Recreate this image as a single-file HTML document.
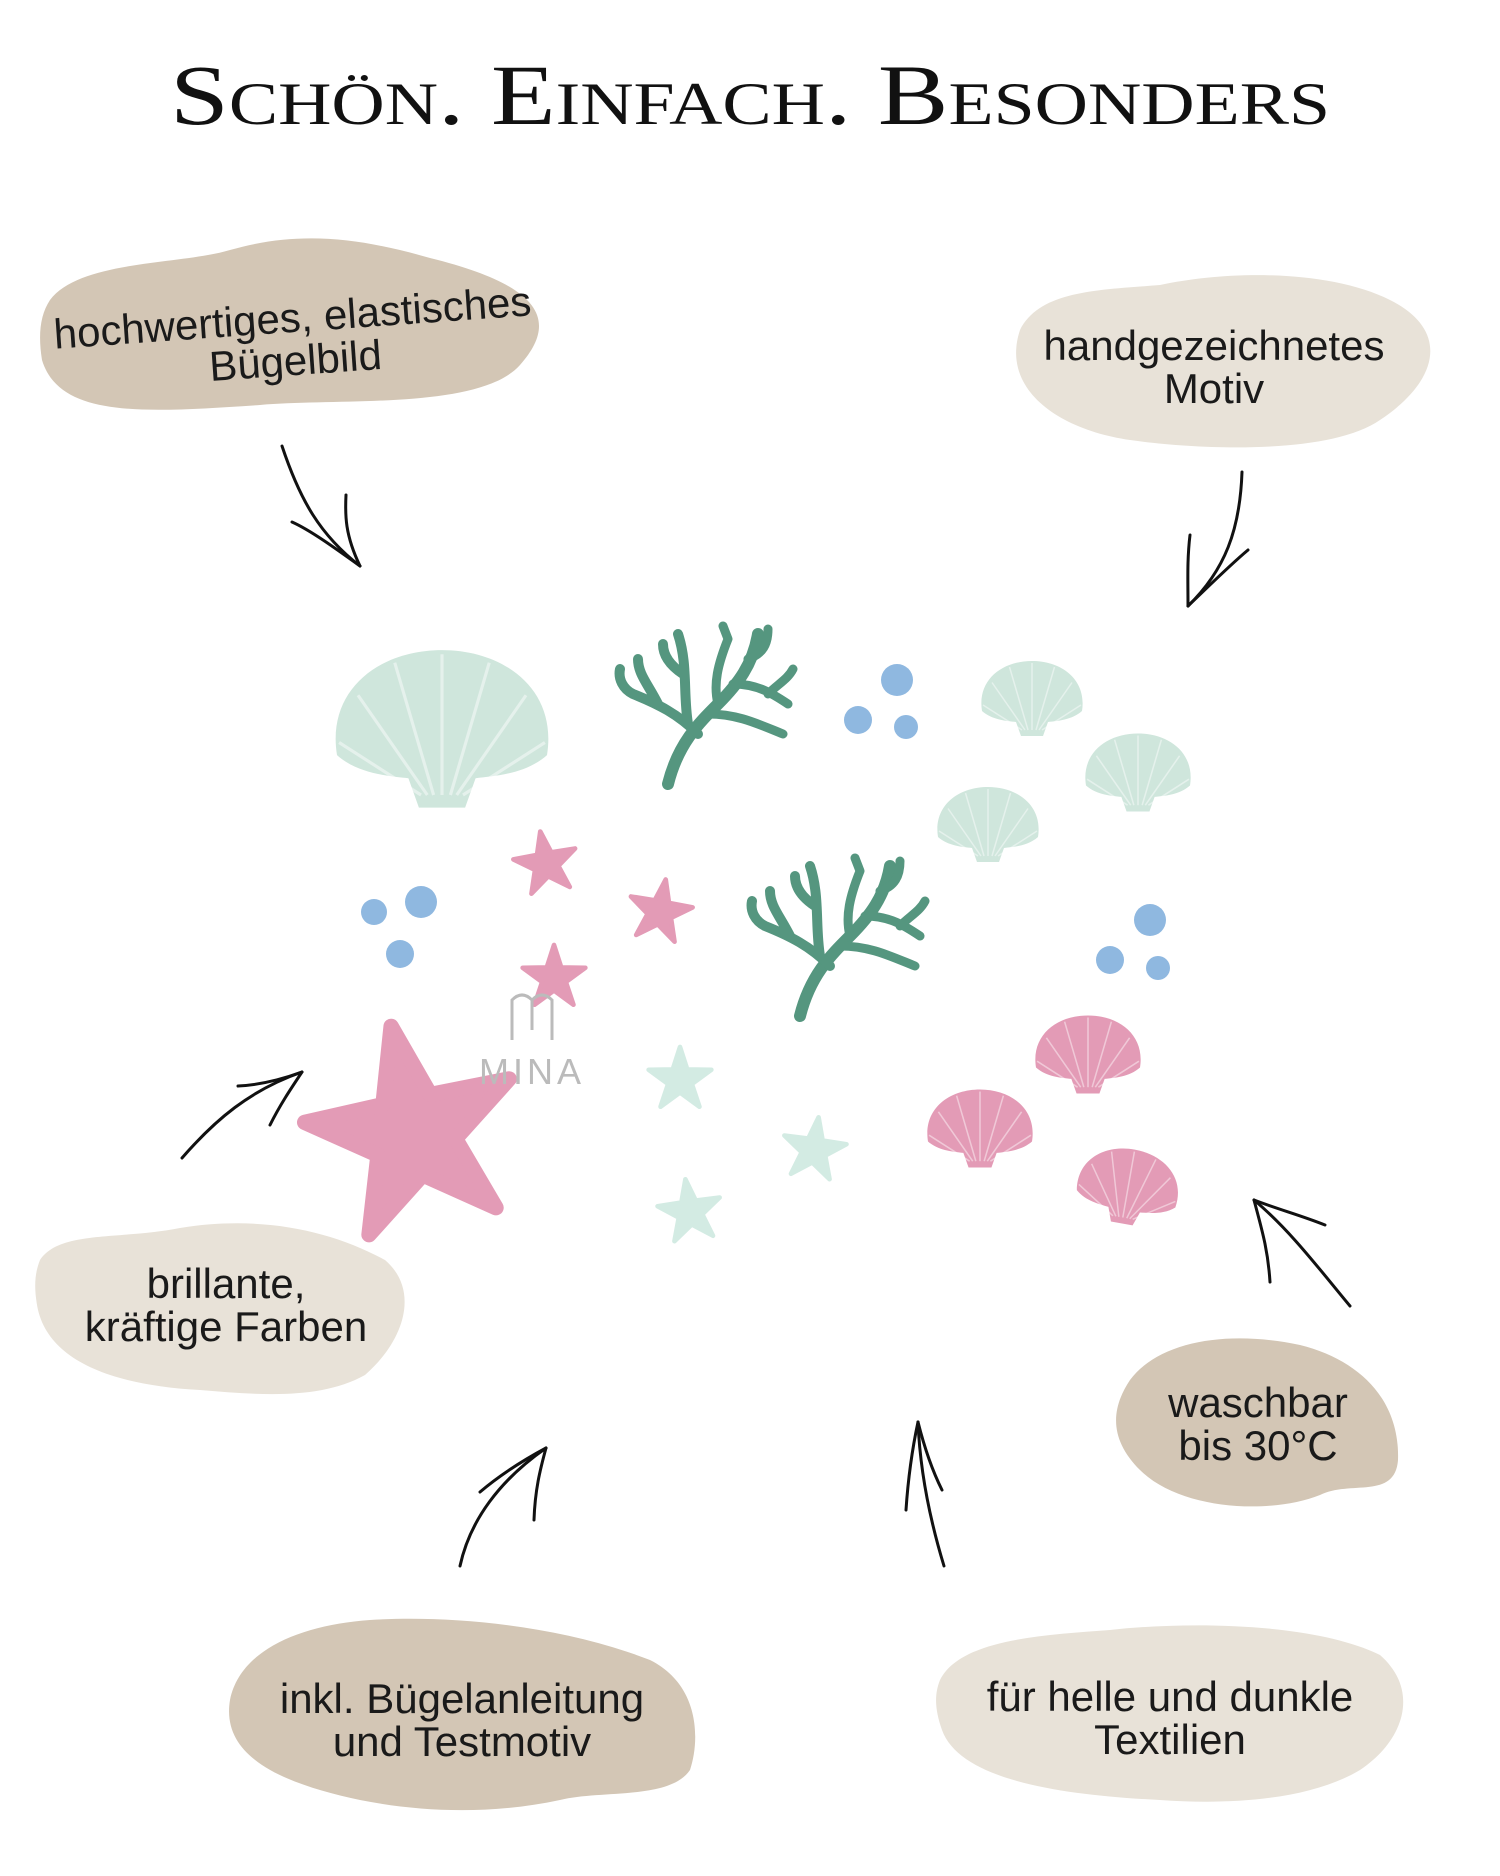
<!DOCTYPE html>
<html><head><meta charset="utf-8"><style>
html,body{margin:0;padding:0;background:#fff}
svg{display:block}
.t{font-family:"Liberation Sans",sans-serif;font-size:42px;fill:#1a1a1a;text-anchor:middle}
</style></head><body>
<svg width="1500" height="1876" viewBox="0 0 1500 1876" xmlns="http://www.w3.org/2000/svg">
<defs>
<g id="shell">
<path d="M-100 22 C-110 -40 -60 -78 0 -78 C60 -78 110 -40 100 22 C80 40 50 42 32 44 L22 72 L-22 72 L-32 44 C-50 42 -80 40 -100 22 Z"/>
<g fill="none" stroke="#fff" stroke-opacity="0.45" stroke-width="3">
<path d="M0 60 L0 -74"/><path d="M-8 60 L-45 -66"/><path d="M8 60 L45 -66"/><path d="M-14 60 L-80 -35"/><path d="M14 60 L80 -35"/><path d="M-20 60 L-98 10"/><path d="M20 60 L98 10"/>
</g>
</g>
<g id="star">
<polygon points="0,-100 22,-32 95,-31 36,12 59,81 0,38 -59,81 -36,12 -95,-31 -22,-32" stroke-linejoin="round" stroke-width="14"/>
</g>
<g id="coral" fill="none" stroke-linecap="round" stroke-linejoin="round">
<path d="M-40 70 C-30 30 -10 10 10 -10 C30 -30 45 -50 50 -80" stroke-width="12"/>
<path d="M-10 20 C-30 0 -50 -10 -75 -20 M-50 -10 C-60 -30 -70 -40 -70 -55 M-75 -20 C-85 -25 -90 -35 -88 -45" stroke-width="10"/>
<path d="M-20 10 C-25 -20 -20 -50 -30 -80 M-25 -40 C-40 -50 -45 -60 -45 -70" stroke-width="10"/>
<path d="M10 -10 C5 -30 10 -50 20 -75 M20 -75 L15 -88" stroke-width="9"/>
<path d="M25 -30 C50 -30 65 -20 80 -10 M60 -20 C70 -30 80 -35 85 -45 M40 -55 C55 -60 60 -70 60 -85" stroke-width="9"/>
<path d="M0 0 C30 0 50 10 75 20" stroke-width="9"/>
</g>
</defs>

<text x="750" y="124" textLength="1160" lengthAdjust="spacingAndGlyphs" style="font-family:'Liberation Serif',serif;font-size:86px;font-variant:small-caps;fill:#111;text-anchor:middle">Schön. Einfach. Besonders</text>

<path d="M50 300 C80 260 180 265 230 250 C300 230 360 238 430 258 C540 285 560 320 520 365 C480 410 340 398 260 405 C150 412 60 420 42 360 C38 335 40 315 50 300 Z" fill="#d3c6b5"/>
<path d="M1020 330 C1040 290 1100 290 1160 285 C1230 270 1330 270 1390 300 C1450 330 1440 380 1380 420 C1330 455 1200 450 1130 440 C1060 430 1000 390 1020 330 Z" fill="#e8e2d8"/>
<path d="M40 1260 C60 1230 120 1240 180 1228 C260 1215 330 1230 385 1260 C420 1290 405 1340 365 1375 C320 1400 260 1395 200 1390 C110 1385 50 1360 38 1310 C34 1290 34 1275 40 1260 Z" fill="#e8e2d8"/>
<path d="M1130 1380 C1160 1340 1230 1330 1300 1345 C1360 1360 1400 1400 1398 1460 C1395 1500 1350 1480 1320 1495 C1270 1515 1180 1510 1140 1470 C1110 1440 1110 1410 1130 1380 Z" fill="#d3c6b5"/>
<path d="M230 1700 C240 1650 300 1625 370 1620 C450 1615 560 1625 650 1660 C700 1685 700 1740 690 1770 C670 1800 600 1790 560 1800 C490 1815 420 1812 360 1800 C290 1785 220 1760 230 1700 Z" fill="#d3c6b5"/>
<path d="M940 1680 C960 1640 1040 1635 1110 1630 C1200 1620 1320 1625 1380 1655 C1420 1690 1405 1740 1360 1770 C1310 1800 1230 1805 1160 1800 C1060 1795 960 1780 942 1730 C935 1710 934 1695 940 1680 Z" fill="#e8e2d8"/>

<g transform="rotate(-4 294 340)">
<text class="t" x="294" y="332">hochwertiges, elastisches</text>
<text class="t" x="294" y="375">Bügelbild</text>
</g>
<text class="t" x="1214" y="360">handgezeichnetes</text>
<text class="t" x="1214" y="403">Motiv</text>
<text class="t" x="226" y="1298">brillante,</text>
<text class="t" x="226" y="1341">kräftige Farben</text>
<text class="t" x="1258" y="1417">waschbar</text>
<text class="t" x="1258" y="1460">bis 30°C</text>
<text class="t" x="462" y="1713">inkl. Bügelanleitung</text>
<text class="t" x="462" y="1756">und Testmotiv</text>
<text class="t" x="1170" y="1711">für helle und dunkle</text>
<text class="t" x="1170" y="1754">Textilien</text>

<g fill="none" stroke="#111" stroke-width="3" stroke-linecap="round">
<path d="M282 446 C300 500 320 535 360 566"/><path d="M360 566 C345 535 345 515 346 495"/><path d="M360 566 C335 548 310 530 292 522"/>
<path d="M1242 472 C1240 530 1225 570 1188 606"/><path d="M1188 606 C1188 580 1187 560 1190 535"/><path d="M1188 606 C1210 585 1230 565 1248 550"/>
<path d="M182 1158 C215 1120 250 1090 302 1072"/><path d="M302 1072 C280 1080 260 1085 238 1086"/><path d="M302 1072 C290 1090 280 1105 270 1125"/>
<path d="M1350 1306 C1320 1270 1290 1230 1254 1200"/><path d="M1254 1200 C1262 1230 1268 1250 1270 1282"/><path d="M1254 1200 C1280 1210 1300 1215 1325 1225"/>
<path d="M460 1566 C470 1520 500 1480 546 1448"/><path d="M546 1448 C540 1470 535 1490 534 1520"/><path d="M546 1448 C520 1462 500 1475 480 1492"/>
<path d="M944 1566 C930 1520 920 1470 918 1422"/><path d="M918 1422 C912 1450 908 1480 906 1510"/><path d="M918 1422 C925 1450 932 1470 942 1490"/>
</g>

<g fill="#cfe6dc">
<use href="#shell" transform="translate(442 732) scale(1.05)"/>
<use href="#shell" transform="translate(1032 700) scale(0.5)"/>
<use href="#shell" transform="translate(1138 774) scale(0.52)"/>
<use href="#shell" transform="translate(988 826) scale(0.5)"/>
</g>
<g fill="#e39bb6">
<use href="#shell" transform="translate(1088 1056) scale(0.52)"/>
<use href="#shell" transform="translate(980 1130) scale(0.52)"/>
<use href="#shell" transform="translate(1128 1188) scale(0.5) rotate(10)"/>
</g>
<g stroke="#55967f"><use href="#coral" transform="translate(708 714) scale(1.0)"/></g>
<g stroke="#55967f"><use href="#coral" transform="translate(840 946) scale(1.0)"/></g>
<g fill="#8fb8e0">
<circle cx="897" cy="680" r="16"/><circle cx="858" cy="720" r="14"/><circle cx="906" cy="727" r="12"/>
<circle cx="374" cy="912" r="13"/><circle cx="421" cy="902" r="16"/><circle cx="400" cy="954" r="14"/>
<circle cx="1150" cy="920" r="16"/><circle cx="1110" cy="960" r="14"/><circle cx="1158" cy="968" r="12"/>
</g>
<g fill="#e39bb6" stroke="#e39bb6">
<use href="#star" transform="translate(546 864) scale(0.33) rotate(-10)"/>
<use href="#star" transform="translate(660 912) scale(0.33) rotate(10)"/>
<use href="#star" transform="translate(554 978) scale(0.33)"/>
<use href="#star" transform="translate(414 1134) scale(1.1) rotate(-12)"/>
</g>
<g fill="#d3ebe3" stroke="#d3ebe3">
<use href="#star" transform="translate(680 1080) scale(0.33)"/>
<use href="#star" transform="translate(814 1150) scale(0.33) rotate(8)"/>
<use href="#star" transform="translate(690 1212) scale(0.33) rotate(-8)"/>
</g>
<g fill="none" stroke="#bbb" stroke-width="3">
<path d="M512 1040 L512 1000 Q522 990 532 1000 L532 1030 M532 1000 Q542 990 552 1000 L552 1040"/>
</g>
<text x="532" y="1084" style="font-family:'Liberation Sans',sans-serif;font-size:36px;fill:#bbb;text-anchor:middle;letter-spacing:4px">MINA</text>
</svg>
</body></html>
